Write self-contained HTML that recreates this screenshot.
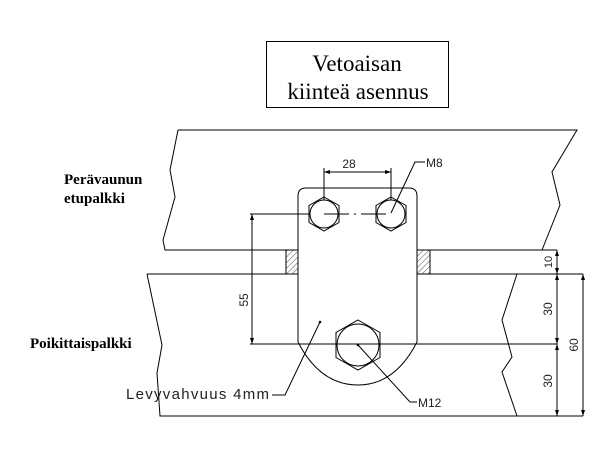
<!DOCTYPE html>
<html><head><meta charset="utf-8"><style>html,body{margin:0;padding:0;background:#fff}</style></head>
<body>
<svg width="613" height="458" viewBox="0 0 613 458" xmlns="http://www.w3.org/2000/svg">
<defs>
<pattern id="h" width="4" height="4" patternUnits="userSpaceOnUse" patternTransform="rotate(45)">
<line x1="0" y1="0" x2="0" y2="4" stroke="#555" stroke-width="1"/></pattern>
<marker id="a" markerWidth="6" markerHeight="6" refX="6" refY="3" orient="auto-start-reverse" markerUnits="userSpaceOnUse"><path d="M0,1 L6,3 L0,5z" fill="#000"/></marker>
</defs>
<g fill="none" stroke="#000" stroke-width="1">
<rect x="266.5" y="41.5" width="182" height="66"/>
<polyline points="178,130 577,130 552,172 560,205 542,250"/>
<polyline points="178,130 170,170 175,197 163,240 165,250 557,250"/>
<polyline points="147,274 583,274"/>
<polyline points="147,274 162,345 157,373 160,416 583,416"/>
<polyline points="517,274 502,320 512,357 502,372 517,416"/>
<rect x="286" y="250" width="12" height="24" fill="url(#h)"/>
<rect x="417" y="250" width="13" height="24" fill="url(#h)"/>
<path d="M298,342 L298,196 Q298,188 306,188 L409,188 Q417,188 417,196 L417,342 Q395,385 358,385 Q320,385 298,342" fill="#fff"/>
<polygon points="324,197 339,205.5 339,222.5 324,231 309,222.5 309,205.5"/><circle cx="324" cy="214" r="14"/>
<polygon points="391,197 406,205.5 406,222.5 391,231 376,222.5 376,205.5"/><circle cx="391" cy="214" r="14"/>
<polygon points="358,320 380,332.5 380,357.5 358,370 336,357.5 336,332.5"/><circle cx="358" cy="345" r="21"/>
<line x1="324" y1="214" x2="391" y2="214" stroke-dasharray="25,5,2,5"/>
<line x1="324" y1="168" x2="324" y2="200"/><line x1="391" y1="168" x2="391" y2="200"/>
<line x1="324" y1="172" x2="391" y2="172" marker-start="url(#a)" marker-end="url(#a)"/>
<polyline points="391,213 415,162 425,162"/>
<line x1="250" y1="214" x2="309" y2="214"/>
<line x1="252" y1="214" x2="252" y2="344" marker-start="url(#a)" marker-end="url(#a)"/>
<line x1="250" y1="344" x2="557" y2="344"/>
<line x1="557" y1="250" x2="557" y2="274" marker-start="url(#a)" marker-end="url(#a)"/>
<line x1="557" y1="274" x2="557" y2="344" marker-start="url(#a)" marker-end="url(#a)"/>
<line x1="557" y1="344" x2="557" y2="416" marker-start="url(#a)" marker-end="url(#a)"/>
<line x1="583" y1="274" x2="583" y2="416" marker-start="url(#a)" marker-end="url(#a)"/>
<polyline points="320,322 285,395 272,395"/>
<polyline points="358,345 410,402 417,402"/>
</g>
<circle cx="320" cy="322" r="1.3" fill="#000"/>
<circle cx="358" cy="345" r="1.3" fill="#000"/>
<g font-family="Liberation Serif, serif" fill="#000">
<text x="357" y="71" font-size="23" text-anchor="middle">Vetoaisan</text>
<text x="358" y="99" font-size="23" text-anchor="middle">kiinteä asennus</text>
<text x="64" y="184" font-size="15" font-weight="bold">Perävaunun</text>
<text x="64" y="203" font-size="15" font-weight="bold">etupalkki</text>
<text x="30" y="348" font-size="15" font-weight="bold">Poikittaispalkki</text>
</g>
<g font-family="Liberation Sans, sans-serif" fill="#222" font-size="12">
<text x="349" y="168" text-anchor="middle">28</text>
<text x="426" y="167">M8</text>
<text x="418" y="407">M12</text>
<text x="126" y="399" font-size="15" textLength="143" lengthAdjust="spacing">Levyvahvuus 4mm</text>
<text transform="translate(248,300) rotate(-90)" text-anchor="middle">55</text>
<text transform="translate(552,262) rotate(-90)" text-anchor="middle" font-size="11">10</text>
<text transform="translate(552,309) rotate(-90)" text-anchor="middle">30</text>
<text transform="translate(552,381) rotate(-90)" text-anchor="middle">30</text>
<text transform="translate(578,345) rotate(-90)" text-anchor="middle">60</text>
</g>
</svg>
</body></html>
